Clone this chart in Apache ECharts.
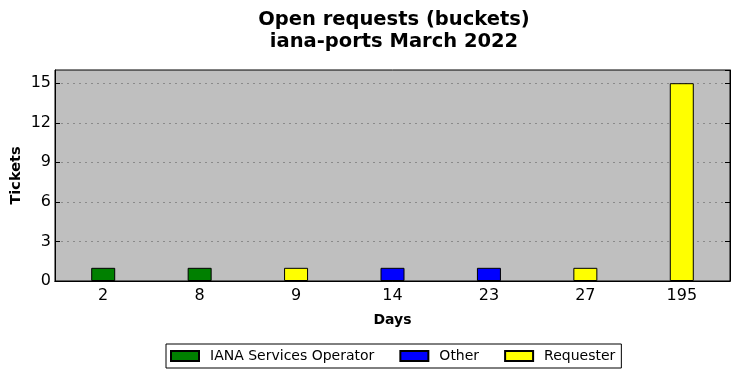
<!DOCTYPE html>
<html>
<head>
<meta charset="utf-8">
<script src="https://cdn.jsdelivr.net/npm/echarts@6/dist/echarts.min.js"></script>
<style>
  html, body { margin: 0; padding: 0; background: #fff; }
  #chart { width: 740px; height: 378px; }
</style>
</head>
<body>
<div id="chart"></div>
<script>
const days = ['2', '8', '9', '14', '23', '27', '195']
const ianaOperator = [1, 1, '-', '-', '-', '-', '-']
const other = ['-', '-', '-', 1, 1, '-', '-']
const requester = ['-', '-', 1, '-', '-', 1, 15]

const font = 'DejaVu Sans'
const chart = echarts.init(document.getElementById('chart'))

function barSeries(name, color, data) {
  return {
    name,
    type: 'bar',
    stack: 'total',
    barWidth: 24,
    xAxisIndex: 0,
    yAxisIndex: 0,
    itemStyle: { color, borderColor: '#000', borderWidth: 1 },
    data,
  }
}

const tickStyle = { inside: true, length: 5, lineStyle: { color: '#000', width: 1 } }

chart.setOption({
  animation: false,
  title: {
    text: 'Open requests (buckets)\niana-ports March 2022',
    // centred over the plot area, not the whole canvas
    left: 389,
    textAlign: 'center',
    top: 4,
    textStyle: { fontFamily: font, fontSize: 19.5, fontWeight: 'bold', color: '#000', lineHeight: 22 },
  },
  grid: {
    left: 55,
    right: 10,
    top: 70,
    bottom: 97,
    outerBoundsMode: 'none',
    containLabel: false,
    show: true,
    backgroundColor: '#bfbfbf',
    borderColor: '#000',
    borderWidth: 1,
  },
  legend: {
    bottom: 10,
    left: 166,
    icon: 'rect',
    itemWidth: 28,
    itemHeight: 10,
    itemGap: 25,
    padding: [5, 6, 5, 4],
    borderColor: '#000',
    borderWidth: 1,
    textStyle: { fontFamily: font, fontSize: 14, color: '#000', padding: [0, 0, 0, 6] },
    data: ['IANA Services Operator', 'Other', 'Requester'],
  },
  xAxis: [
    {
      type: 'category',
      data: days,
      name: 'Days',
      nameLocation: 'middle',
      nameGap: 32,
      nameTextStyle: { fontFamily: font, fontSize: 14, fontWeight: 'bold', color: '#000' },
      axisLine: { lineStyle: { color: '#000' } },
      axisTick: { ...tickStyle, alignWithLabel: true, interval: 0 },
      axisLabel: { fontFamily: font, fontSize: 16, color: '#000', margin: 7, interval: 0 },
    },
    {
      type: 'category',
      data: days,
      position: 'top',
      axisLine: { lineStyle: { color: '#000' } },
      axisTick: { ...tickStyle, alignWithLabel: true, interval: 0 },
      axisLabel: { show: false },
    },
  ],
  yAxis: [
    {
      type: 'value',
      min: 0,
      max: 16,
      interval: 3,
      name: 'Tickets',
      nameLocation: 'middle',
      nameGap: 31,
      nameMoveOverlap: false,
      nameTextStyle: { fontFamily: font, fontSize: 14.5, fontWeight: 'bold', color: '#000' },
      axisLine: { show: true, lineStyle: { color: '#000' } },
      axisTick: { show: true, ...tickStyle },
      axisLabel: { fontFamily: font, fontSize: 16, color: '#000', margin: 4, showMaxLabel: false },
      splitLine: { show: true, showMaxLine: false, showMinLine: false, lineStyle: { color: '#8a8a8a', type: [2, 4], width: 1 } },
    },
    {
      type: 'value',
      min: 0,
      max: 16,
      interval: 3,
      position: 'right',
      axisLine: { show: true, lineStyle: { color: '#000' } },
      axisTick: { show: true, ...tickStyle },
      axisLabel: { show: false, showMaxLabel: false },
      splitLine: { show: false },
    },
  ],
  series: [
    barSeries('IANA Services Operator', '#008000', ianaOperator),
    barSeries('Other', '#0000ff', other),
    barSeries('Requester', '#ffff00', requester),
  ],
})
</script>
</body>
</html>
